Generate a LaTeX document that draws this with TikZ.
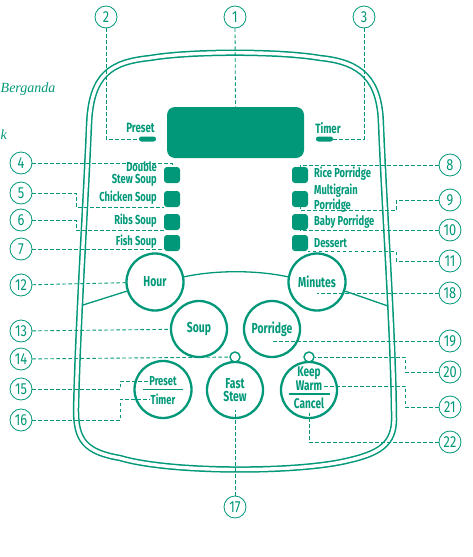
\documentclass[tikz,border=0pt]{standalone}
\usepackage{fontspec}
\setmainfont{Fira Sans}[FakeStretch=0.72]
\newfontfamily\numfont{Fira Sans}[FakeStretch=0.8]
\newfontfamily\edgefont{Liberation Serif}
\usepackage{tikz}
\usetikzlibrary{positioning}
\definecolor{panel}{RGB}{0,152,120}

\begin{document}
\begin{tikzpicture}[
        x=1pt, y=-1pt,
        font=\bfseries\fontsize{13}{11.5}\selectfont,
        shell/.style={
            draw=panel,
            line width=1.5pt,
            double=white,
            double distance=3.4pt
        },
        face/.style={draw=panel, line width=1.3pt},
        num/.style={
            circle,
            draw=panel,
            line width=0.8pt,
            minimum size=22pt,
            inner sep=0pt,
            text=panel,
            font=\numfont\fontsize{16}{16}\selectfont
        },
        lead/.style={draw=panel, line width=0.9pt, dash pattern=on 3.5pt off 2.5pt},
        led/.style={
            fill=panel,
            rounded corners=3pt,
            minimum size=16pt,
            inner sep=0pt
        },
        pill/.style={
            fill=panel,
            rounded corners=2.4pt,
            minimum width=17pt,
            minimum height=5pt,
            inner sep=0pt
        },
        btn/.style={
            circle,
            draw=panel,
            line width=2.3pt,
            fill=white,
            minimum size=56pt,
            inner sep=0pt,
            text=panel,
            align=center,
            font=\bfseries\fontsize{14.4}{13.5}\selectfont
        },
        dot/.style={
            circle,
            draw=panel,
            line width=1.4pt,
            fill=white,
            minimum size=10pt,
            inner sep=0pt
        },
        tag/.style={text=panel, inner sep=1pt}
    ]
        \useasboundingbox (0,0) rectangle (473,557);

        \node[text=panel, inner sep=0pt, anchor=base west, font=\edgefont\itshape\fontsize{14}{14}\selectfont] (edgeA) at (0.5,92) {Berganda};
        \node[text=panel, inner sep=0pt, anchor=base west, font=\edgefont\itshape\fontsize{14}{14}\selectfont] (edgeB) at (0.5,139) {k};

        \draw[shell] (150,58) .. controls (190,51) and (280,51) .. (320,58)
            .. controls (362,62) and (380,80) .. (381,125)
            .. controls (385,220) and (393,330) .. (394,415)
            .. controls (395,440) and (385,452) .. (350,460)
            .. controls (300,473) and (170,473) .. (120,458)
            .. controls (85,452) and (76,440) .. (76,410)
            .. controls (78,320) and (86,200) .. (89,125)
            .. controls (91,75) and (110,62) .. (150,58) -- cycle;

        \node[fill=panel, rounded corners=8pt, minimum width=137pt, minimum height=51pt, inner sep=0pt] (display) at (235.5,132.5) {};
        \node[tag, font=\bfseries\fontsize{13.5}{13}\selectfont] (presetlbl) at (140.5,128) {Preset};
        \node[tag, font=\bfseries\fontsize{13.5}{13}\selectfont] (timerlbl) at (328,128) {Timer};
        \node[pill] (presetpill) at (147.5,139) {};
        \node[pill] (timerpill) at (324.5,139) {};

        \foreach \i/\y in {1/175,2/199,3/222,4/243} {
            \node[led] (ledL\i) at (172,\y) {};
            \node[led] (ledR\i) at (300,\y) {};
        }
        \node[tag, anchor=east, align=right] (dblstew) at (158,174) {Double\\Stew Soup};
        \node[tag, anchor=east] (chicken) at (158,198) {Chicken Soup};
        \node[tag, anchor=east] (ribs) at (158,221) {Ribs Soup};
        \node[tag, anchor=east] (fish) at (158,242) {Fish Soup};
        \node[tag, anchor=west] (rice) at (313,174) {Rice Porridge};
        \node[tag, anchor=west, align=left] (multi) at (313,198) {Multigrain\\Porridge};
        \node[tag, anchor=west] (baby) at (313,222) {Baby Porridge};
        \node[tag, anchor=west] (dessert) at (313,243) {Dessert};

        \node[btn, minimum size=57pt] (hour) at (155,282) {Hour};
        \node[btn, minimum size=57pt] (minutes) at (317,282) {Minutes};
        \node[btn] (soup) at (199,329) {Soup};
        \node[btn] (porridge) at (272,329) {Porridge};
        \node[btn, minimum size=57pt] (preset) at (163,389.5) {};
        \node[btn] (fast) at (235,390) {Fast\\Stew};
        \node[btn] (keep) at (309,390) {};
        \node[dot] (fastdot) at (235,357) {};
        \node[dot] (warmdot) at (309,357) {};

        \node[tag] (ptxt) at (163,381) {Preset};
        \node[tag] (ttxt) at (163,399) {Timer};
        \node[tag, font=\bfseries\fontsize{14}{13}\selectfont] (keeptxt) at (309,373) {Keep};
        \node[tag, font=\bfseries\fontsize{14}{13}\selectfont] (warmtxt) at (309,386) {Warm};
        \node[tag, font=\bfseries\fontsize{14}{13}\selectfont] (canceltxt) at (309,403) {Cancel};
        \draw[face] ([xshift=-20pt]preset.center) -- ([xshift=20pt]preset.center);
        \draw[face] ([xshift=-20.5pt, yshift=-4pt]keep.center) -- ([xshift=20.5pt, yshift=-4pt]keep.center);

        \coordinate (faceL) at (83,305);
        \coordinate (faceR) at (388,306);
        \draw[face] (faceL) -- (hour.198);
        \draw[face] (hour.10) .. controls (215,270) and (257,270) .. (minutes.170);
        \draw[face] (minutes.-18) -- (faceR);

        \node[num] (n1) at (235,17) {1};
        \node[num] (n2) at (106,17) {2};
        \node[num] (n3) at (364,17) {3};
        \node[num] (n17) at (235,507) {17};
        \foreach \n/\y in {4/163,5/193,6/220,7/249,12/285,13/331,14/359,15/389,16/420} {
            \node[num] (n\n) at (21,\y) {\n};
        }
        \foreach \n/\y in {8/165,9/200,10/230,11/261,18/293,19/341,20/372,21/407,22/442} {
            \node[num] (n\n) at (450,\y) {\n};
        }

        \draw[lead] (n1.south) -- (display.north);
        \draw[lead] (n2.south) |- (presetpill.west);
        \draw[lead] (n3.south) |- (timerpill.east);
        \draw[lead] (n4.east) -| (ledL1.north);
        \draw[lead] (n5.east) -- ++(44,0) |- (ledL2.south west);
        \draw[lead] (n6.east) -- ++(44,0) |- (ledL3.south west);
        \draw[lead] (n7.east) -- (n7.east -| ledL4.west);
        \draw[lead] (n8.west) -| (ledR1.north);
        \draw[lead] (n9.west) -- ++(-42,0) -- ++(0,10) -| (ledR2.south);
        \draw[lead] (n10.west) -| (ledR3.south);
        \draw[lead] (n11.west) -- ++(-42,0) |- (ledR4.south east);
        \draw[lead] (n12) -- (hour);
        \draw[lead] (n13) -- (soup);
        \draw[lead] (n14) -- (fastdot);
        \draw[lead] (n15.east) -- ++(88,0) |- (ptxt.west);
        \draw[lead] (n16.east) -- ++(88,0) |- (ttxt.west);
        \draw[lead] (n17.north) -- ([yshift=9pt]fast.south);
        \draw[lead] (n18.west) -- (n18.west -| minutes);
        \draw[lead] (n19.west) -- (n19.west -| porridge);
        \draw[lead] (n20.west) -- ++(-33,0) |- (warmdot.east);
        \draw[lead] (n21.west) -- ++(-33,0) |- (warmtxt.east);
        \draw[lead] (n22.west) -| ([yshift=6pt]keep.south);
    \end{tikzpicture}
\end{document}
